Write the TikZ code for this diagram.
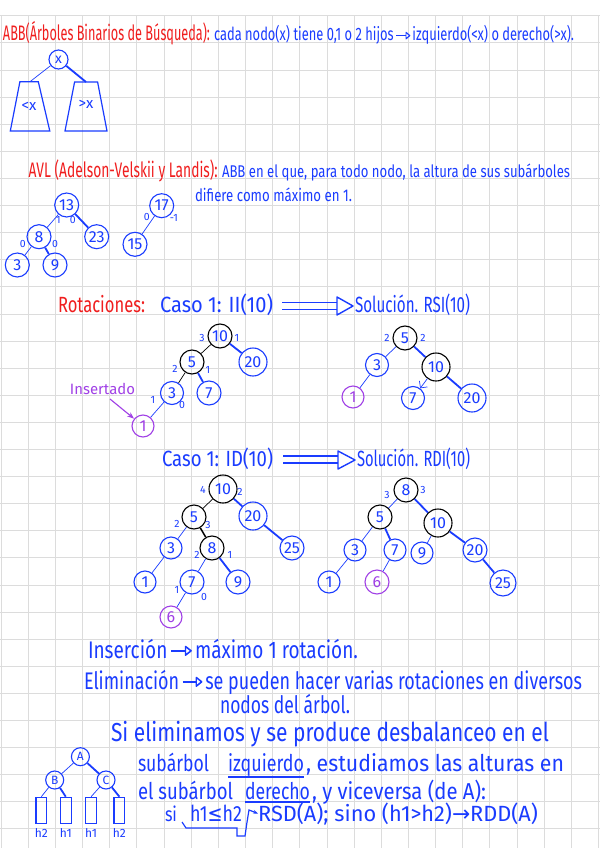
\documentclass[tikz,border=0pt]{standalone}
\usepackage{fontspec}
\setmainfont{Fira Sans}
\newfontfamily\dv{DejaVu Sans}
\usepackage{graphicx}
\usetikzlibrary{arrows.meta}
\definecolor{pen}{HTML}{1A3CFF}
\definecolor{redpen}{HTML}{F01E1E}
\definecolor{purp}{HTML}{A040E6}
\definecolor{gridc}{HTML}{DCDCDC}
\newcommand\fitto[2]{\resizebox{#1pt}{\height}{#2}}
\newcommand\oarr{\,\tikz[baseline=0pt,x=1em,y=1em]{\draw[line width=0.07em] (0,0.3) -- (0.75,0.3); \draw[line width=0.07em, line join=round] (0.75,0.12) -- (1.05,0.3) -- (0.75,0.48) -- cycle;}\,}
\newcommand\farr{{\dv →}}
\begin{document}
\begin{tikzpicture}[x=1pt,y=-1pt,
  bn/.style={circle, draw=pen, text=pen, line width=1.1pt, minimum size=24pt, inner sep=0pt, font=\fontsize{16}{16}\selectfont},
  kn/.style={bn, draw=black},
  pn/.style={bn, draw=purp, text=purp},
  ethin/.style={pen, line width=0.7pt},
  ethick/.style={pen, line width=1.8pt},
  lab/.style={text=pen, inner sep=0pt, font=\fontsize{10.5}{10.5}\selectfont},
  txt/.style={inner sep=0pt, outer sep=0pt, anchor=base west, text=pen},
  rtxt/.style={txt, text=redpen},
  ]
\useasboundingbox (0,0) rectangle (600,848);
\fill[white] (0,0) rectangle (600,848);
\foreach \i in {0,...,22} \draw[gridc, line width=0.8pt] ({1.1+27.15*\i},15.8) -- ({1.1+27.15*\i},848);
\foreach \j in {0,...,30} \draw[gridc, line width=0.8pt] (0,{15.8+27.1*\j}) -- (600,{15.8+27.1*\j});

% ---------- Section 1 ----------
\node[rtxt, font=\fontsize{21}{21}\selectfont] (t1a) at (3,41) {\fitto{207}{ABB(Árboles Binarios de Búsqueda):}};
\node[txt, font=\fontsize{18}{18}\selectfont] (t1b) at (214,41) {\fitto{360}{cada nodo(x) tiene 0,1 o 2 hijos\oarr izquierdo(<x) o derecho(>x).}};
\node[bn, minimum size=19pt, font=\fontsize{14}{14}\selectfont] (x) at (58.5,59.5) {x};
\coordinate (lt) at (30,81.7);
\coordinate (rt) at (86,82);
\draw[pen, line width=1.2pt] (19.9,81.7) -- (38.3,81.7) -- (49.8,131) -- (10.3,131) -- cycle;
\draw[pen, line width=1.2pt] (74.6,82) -- (97.6,82) -- (107,131) -- (65,131) -- cycle;
\node[text=pen, font=\fontsize{15}{15}\selectfont] (lx) at (29,106) {<x};
\node[text=pen, font=\fontsize{15}{15}\selectfont] (gx) at (86,104) {>x};
\draw[ethin] (x) -- (lt);
\draw[ethick] (x) -- (rt);

% ---------- Section 2 ----------
\node[rtxt, font=\fontsize{21}{21}\selectfont] (t2a) at (28.7,177) {\fitto{189}{AVL (Adelson-Velskii y Landis):}};
\node[txt, font=\fontsize{17}{17}\selectfont] (t2b) at (222,177) {\fitto{348}{ABB en el que, para todo nodo, la altura de sus subárboles}};
\node[txt, font=\fontsize{17}{17}\selectfont] (t2c) at (195,201) {\fitto{157}{difiere como máximo en 1.}};
\begin{scope}[every node/.append style={minimum size=23.5pt}]
\node[bn] (a13) at (66.7,205) {13};
\node[bn] (a8) at (39,236.7) {8};
\node[bn] (a23) at (96.7,236.7) {23};
\node[bn] (a3) at (17.3,265) {3};
\node[bn] (a9) at (55,265) {9};
\node[bn] (a17) at (161.7,205.7) {17};
\node[bn] (a15) at (135,244.3) {15};
\end{scope}
\draw[ethin] (a13) -- (a8);
\draw[ethick] (a13) -- (a23);
\draw[ethin] (a8) -- (a3);
\draw[ethick] (a8) -- (a9);
\draw[ethin] (a17) -- (a15);
\node[lab] (la1) at (58.3,220) {1};
\node[lab] (la2) at (72.7,220) {0};
\node[lab] (la3) at (22.7,244.3) {0};
\node[lab] (la4) at (55,244.3) {0};
\node[lab] (la5) at (146.7,216.7) {0};
\node[lab] (la6) at (174,218.3) {-1};

% ---------- Section 3 ----------
\node[rtxt, font=\fontsize{22}{22}\selectfont] (rot) at (58,312) {\fitto{87}{Rotaciones:}};
\node[txt, font=\fontsize{22}{22}\selectfont] (c1) at (160,312) {\fitto{113}{Caso 1: II(10)}};
\node[txt, font=\fontsize{22}{22}\selectfont] (s1) at (355,312) {\fitto{115}{Solución. RSI(10)}};
\draw[pen, line width=1.2pt] (282,302.5) -- (337,302.5) (282,309.5) -- (337,309.5);
\draw[pen, line width=1.4pt, line join=round] (337,297) -- (353,306) -- (337,315) -- cycle;

\node[kn] (L10) at (220,336) {10};
\node[kn] (L5) at (192,362) {5};
\node[bn, minimum size=28pt] (L20) at (253,362) {20};
\node[bn, minimum size=23pt] (L3) at (172,393) {3};
\node[bn] (L7) at (209,393) {7};
\node[pn, minimum size=22pt] (L1) at (143,426) {1};
\draw[black, line width=0.7pt] (L10) -- (L5);
\draw[ethick] (L10) -- (L20);
\draw[black, line width=0.7pt] (L5) -- (L3);
\draw[ethick] (L5) -- (L7);
\draw[ethin] (L3) -- (L1);
\node[lab] (lb1) at (202,338) {3};
\node[lab] (lb2) at (237,338) {1};
\node[lab] (lb3) at (175,369) {2};
\node[lab] (lb4) at (208,370) {1};
\node[lab] (lb5) at (153,400) {1};
\node[lab] (lb6) at (182,405) {0};
\node[text=purp, inner sep=0pt, font=\fontsize{15}{15}\selectfont] (ins) at (102.5,389) {\fitto{65}{Insertado}};
\coordinate (insA) at (110,399);
\draw[purp, line width=1.1pt, -{Stealth[length=7pt]}] (insA) -- (L1);

\node[kn] (R5) at (405,338) {5};
\node[bn, minimum size=23pt] (R3) at (377,365) {3};
\node[kn, minimum size=28pt] (R10) at (436,367) {10};
\node[pn, minimum size=22pt] (R1) at (353,397) {1};
\node[bn, minimum size=23pt] (R7) at (413,398) {7};
\node[bn, minimum size=28pt] (R20) at (472,398) {20};
\draw[ethin] (R5) -- (R3);
\draw[ethick] (R5) -- (R10);
\draw[ethin] (R3) -- (R1);
\draw[ethin, -{Straight Barb[length=5pt]}] (R10) -- (R7);
\draw[ethick] (R10) -- (R20);
\node[lab] (lc1) at (387,338) {2};
\node[lab] (lc2) at (423,338) {2};

% ---------- Section 4 ----------
\node[txt, font=\fontsize{22}{22}\selectfont] (c2) at (162,466) {\fitto{111}{Caso 1: ID(10)}};
\node[txt, font=\fontsize{22}{22}\selectfont] (s2) at (357,466) {\fitto{113}{Solución. RDI(10)}};
\draw[pen, line width=1.2pt] (283,456) -- (338,456) (283,463) -- (338,463);
\draw[pen, line width=1.4pt, line join=round] (338,451) -- (355,460) -- (338,469) -- cycle;

\node[kn, minimum size=28pt] (A10) at (223,489) {10};
\node[kn] (A5) at (194,517) {5};
\node[bn, minimum size=28pt] (A20) at (253,516) {20};
\node[bn, minimum size=22pt] (A3) at (171,548) {3};
\node[kn] (A8) at (212,548) {8};
\node[bn] (A25) at (292,548) {25};
\node[bn, minimum size=22pt] (A1) at (145,582) {1};
\node[bn] (A7) at (192,582) {7};
\node[bn] (A9) at (238,582) {9};
\node[pn, minimum size=22pt] (A6) at (171,617) {6};
\draw[black, line width=0.7pt] (A10) -- (A5);
\draw[ethick] (A10) -- (A20);
\draw[ethin] (A5) -- (A3);
\draw[black, line width=1.5pt] (A5) -- (A8);
\draw[ethick] (A20) -- (A25);
\draw[ethin] (A3) -- (A1);
\draw[ethin] (A8) -- (A7);
\draw[ethick] (A8) -- (A9);
\draw[ethin] (A7) -- (A6);
\node[lab] (ld1) at (203,490) {4};
\node[lab] (ld2) at (240,492) {2};
\node[lab] (ld3) at (177,524) {2};
\node[lab] (ld4) at (208,525) {3};
\node[lab] (ld5) at (197,555) {2};
\node[lab] (ld6) at (230,555) {1};
\node[lab] (ld7) at (177,590) {1};
\node[lab] (ld8) at (204,597) {0};

\node[kn] (B8) at (406,490) {8};
\node[kn] (B5) at (380,517) {5};
\node[kn, minimum size=28pt] (B10) at (438,523) {10};
\node[bn, minimum size=22pt] (B3) at (355,550) {3};
\node[bn, minimum size=22pt] (B7) at (395,550) {7};
\node[bn, minimum size=22pt] (B9) at (422,553) {9};
\node[bn] (B20) at (475,550) {20};
\node[bn, minimum size=22pt] (B1) at (329,582) {1};
\node[pn] (B6) at (377,582) {6};
\node[bn, minimum size=26pt] (B25) at (503,583) {25};
\draw[ethin] (B8) -- (B5);
\draw[ethick] (B8) -- (B10);
\draw[ethin] (B5) -- (B3);
\draw[ethick] (B5) -- (B7);
\draw[ethin] (B10) -- (B9);
\draw[ethick] (B10) -- (B20);
\draw[ethin] (B3) -- (B1);
\draw[ethin] (B7) -- (B6);
\draw[ethick] (B20) -- (B25);
\node[lab] (le1) at (387,495) {3};
\node[lab] (le2) at (423,490) {3};

% ---------- Section 5 ----------
\node[txt, font=\fontsize{24}{24}\selectfont] (ins1) at (88,658) {\fitto{270}{Inserción\oarr máximo 1 rotación.}};
\node[txt, font=\fontsize{24}{24}\selectfont] (eli1) at (84,689) {\fitto{498}{Eliminación\oarr se pueden hacer varias rotaciones en diversos}};
\node[txt, font=\fontsize{24}{24}\selectfont] (eli2) at (220,713) {\fitto{130}{nodos del árbol.}};
\node[txt, font=\fontsize{26}{26}\selectfont] (si1) at (111,741) {\fitto{438}{Si eliminamos y se produce desbalanceo en el}};
\node[txt, font=\fontsize{23}{23}\selectfont] (si2a) at (138,771) {\fitto{71}{subárbol}};
\node[txt, font=\fontsize{23}{23}\selectfont] (si2b) at (228,771) {\fitto{76}{izquierdo}};
\node[txt, font=\fontsize{23}{23}\selectfont] (si2c) at (306,771) {\fitto{258}{, estudiamos las alturas en}};
\node[txt, font=\fontsize{23}{23}\selectfont] (si3a) at (138,799) {\fitto{95}{el subárbol}};
\node[txt, font=\fontsize{23}{23}\selectfont] (si3b) at (245,799) {\fitto{65}{derecho}};
\node[txt, font=\fontsize{23}{23}\selectfont] (si3c) at (312,799) {\fitto{174}{, y viceversa (de A):}};
\draw[pen, line width=1.2pt] ([yshift=-1pt]si2b.south west) -- ([yshift=-1pt]si2b.south east);
\draw[pen, line width=1.2pt] ([yshift=-3pt]si3b.base west) -- ([yshift=-3pt]si3b.base east);
\node[txt, font=\fontsize{20}{20}\selectfont] (si4a) at (165,821) {\fitto{12}{si}};
\node[txt, font=\fontsize{22}{22}\selectfont] (si4b) at (190,821) {\fitto{52}{h1{\dv ≤}h2}};
\node[txt, font=\fontsize{22}{22}\selectfont] (si4c) at (258,821) {\fitto{280}{RSD(A); sino (h1>h2)\farr RDD(A)}};
\coordinate (bk1) at (182,822);
\coordinate (bk2) at (186,828);
\coordinate (bk3) at (237,828);
\coordinate (bk4) at (237,836);
\coordinate (bk5) at (245,836);
\coordinate (bk6) at (249,810);
\draw[pen, line width=1.2pt, -{Stealth[length=5pt]}] (bk1) -- (bk2) -- (bk3) -- (bk4) -- (bk5) .. controls (247,822) .. (bk6) -- (si4c.west);

\node[bn, minimum size=18pt, font=\fontsize{12}{12}\selectfont] (nA) at (80.4,756.7) {A};
\node[bn, minimum size=18pt, font=\fontsize{12}{12}\selectfont] (nB) at (54.7,780) {B};
\node[bn, minimum size=18pt, font=\fontsize{12}{12}\selectfont] (nC) at (106,780) {C};
\foreach \cx/\nm in {41.3/r1, 65.8/r2, 91.1/r3, 119.4/r4} {
  \node[draw=pen, line width=1.3pt, minimum width=10.7pt, minimum height=26pt, inner sep=0pt, anchor=north] (\nm) at (\cx,796.7) {};
}
\draw[ethin] (nA) -- (nB);
\draw[ethick] (nA) -- (nC);
\draw[ethin] (nB) -- (r1.north);
\draw[ethick] (nB) -- (r2.north);
\draw[ethin] (nC) -- (r3.north);
\draw[ethick] (nC) -- (r4.north);
\node[text=pen, inner sep=0pt, font=\fontsize{12}{12}\selectfont] (h1) at (41.3,833) {h2};
\node[text=pen, inner sep=0pt, font=\fontsize{12}{12}\selectfont] (h2) at (65.8,833) {h1};
\node[text=pen, inner sep=0pt, font=\fontsize{12}{12}\selectfont] (h3) at (91.1,833) {h1};
\node[text=pen, inner sep=0pt, font=\fontsize{12}{12}\selectfont] (h4) at (119.4,833) {h2};
\end{tikzpicture}
\end{document}
